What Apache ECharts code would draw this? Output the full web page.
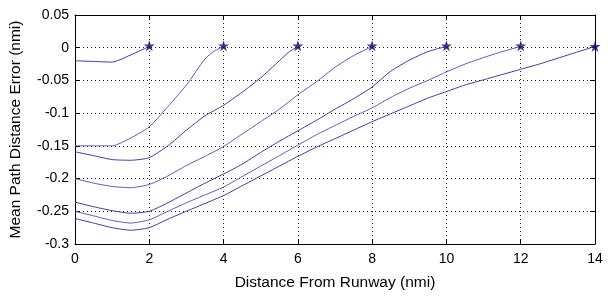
<!DOCTYPE html>
<html><head><meta charset="utf-8">
<script src="https://cdn.jsdelivr.net/npm/echarts@6/dist/echarts.min.js"></script>
<style>html,body{margin:0;padding:0;background:#fff}#c{width:610px;height:296px}</style>
</head><body><div id="c"></div>
<script>
// Data: [distance, error] pairs per approach series
const s1 = [[0,-0.020],[0.5,-0.021],[1,-0.022],[1.5,-0.011],[2,0.002]];
const s2 = [[0,-0.150],[0.5,-0.150],[1,-0.150],[1.5,-0.138],[2,-0.121],[2.5,-0.090],[3,-0.057],[3.5,-0.017],[3.75,-0.005],[4,0.002]];
const s3 = [[0,-0.159],[0.5,-0.165],[1,-0.171],[1.5,-0.172],[2,-0.168],[2.5,-0.150],[3,-0.126],[3.5,-0.104],[4,-0.088],[4.5,-0.068],[5,-0.046],[5.5,-0.020],[5.75,-0.007],[6,0.002]];
const s4 = [[0,-0.200],[0.5,-0.207],[1,-0.212],[1.5,-0.214],[2,-0.209],[2.5,-0.196],[3,-0.180],[3.5,-0.166],[4,-0.151],[4.5,-0.132],[5,-0.113],[5.5,-0.094],[6,-0.072],[6.5,-0.052],[7,-0.030],[7.5,-0.012],[8,0.002]];
const s5 = [[0,-0.236],[0.5,-0.243],[1,-0.249],[1.5,-0.253],[2,-0.250],[2.5,-0.237],[3,-0.222],[3.5,-0.207],[4,-0.193],[4.5,-0.178],[5,-0.160],[5.5,-0.143],[6,-0.127],[6.5,-0.111],[7,-0.094],[7.5,-0.078],[8,-0.060],[8.5,-0.036],[9,-0.019],[9.5,-0.006],[10,0.002]];
const s6 = [[0,-0.250],[0.5,-0.257],[1,-0.264],[1.5,-0.268],[2,-0.263],[2.5,-0.250],[3,-0.237],[3.5,-0.225],[4,-0.213],[4.5,-0.197],[5,-0.181],[5.5,-0.165],[6,-0.149],[6.5,-0.133],[7,-0.119],[7.5,-0.105],[8,-0.092],[8.5,-0.076],[9,-0.062],[9.5,-0.050],[10,-0.037],[10.5,-0.025],[11,-0.015],[11.5,-0.006],[12,0.002]];
const s7 = [[0,-0.261],[0.5,-0.268],[1,-0.275],[1.5,-0.279],[2,-0.275],[2.5,-0.262],[3,-0.250],[3.5,-0.238],[4,-0.226],[4.5,-0.211],[5,-0.196],[5.5,-0.181],[6,-0.166],[6.5,-0.152],[7,-0.139],[7.5,-0.126],[8,-0.113],[8.5,-0.101],[9,-0.089],[9.5,-0.077],[10,-0.067],[10.5,-0.057],[11,-0.049],[11.5,-0.041],[12,-0.033],[12.5,-0.025],[13,-0.016],[13.5,-0.007],[14,0.002]];
const starX = [2,4,6,8,10,12,14];
const starY = [0.003,0.003,0.003,0.003,0.003,0.003,0.002];
const xTitle = 'Distance From Runway (nmi)';
const yTitle = 'Mean Path Distance Error (nmi)';

const lineSeries = [s1,s2,s3,s4,s5,s6,s7];
const STAR = 'path://M50,0 L61.8,35.1 L98.9,35.1 L68.8,57.3 L80.2,92.7 L50,70.8 L19.8,92.7 L31.2,57.3 L1.1,35.1 L38.2,35.1 Z';
const font = 'Liberation Sans, Arial, Helvetica, sans-serif';

const chart = echarts.init(document.getElementById('c'), null, {renderer:'canvas'});
const series = lineSeries.map((d,i)=>({
  type:'line', data:d, showSymbol:false, symbol:'none', smooth:0.2,
  lineStyle:{color: i%2 ? '#5a5ac0' : '#3a3aae', width:1}, z:2, animation:false
}));
series.push({
  type:'scatter', data: starX.map((x,i)=>[x, starY[i]]), symbol: STAR, symbolSize: 11,
  itemStyle:{color:'#0b0b6b'}, z:5, animation:false
});
const grid = {show:true, lineStyle:{color:'#222', type:[1,3], width:1}};
function axisCommon(){
  return {
    axisLine:{show:true, onZero:false, lineStyle:{color:'#000', width:1}},
    axisTick:{show:true, inside:true, length:5, lineStyle:{color:'#000'}},
  };
}
chart.setOption({
  animation:false,
  grid:{left:72, right:15, top:15, bottom:45, containLabel:false},
  xAxis:[
    Object.assign({type:'value', min:0, max:14, interval:2, position:'bottom',
      axisLabel:{color:'#000', fontSize:14, fontFamily:font, margin:8},
      splitLine:grid,
      name:xTitle, nameLocation:'middle', nameGap:31,
      nameTextStyle:{color:'#000', fontSize:15.5, fontFamily:font}}, axisCommon()),
    Object.assign({type:'value', min:0, max:14, interval:2, position:'top',
      axisLabel:{show:false}, splitLine:{show:false}}, axisCommon())
  ],
  yAxis:[
    Object.assign({type:'value', min:-0.3, max:0.05, interval:0.05, position:'left',
      axisLabel:{color:'#000', fontSize:14, fontFamily:font, margin:6,
        formatter: v => String(Math.round(v*100)/100)},
      splitLine:grid,
      name:yTitle, nameLocation:'middle', nameGap:51, nameRotate:90,
      nameTextStyle:{color:'#000', fontSize:15.5, fontFamily:font}}, axisCommon()),
    Object.assign({type:'value', min:-0.3, max:0.05, interval:0.05, position:'right',
      axisLabel:{show:false}, splitLine:{show:false}}, axisCommon())
  ],
  series: series
});
</script></body></html>
